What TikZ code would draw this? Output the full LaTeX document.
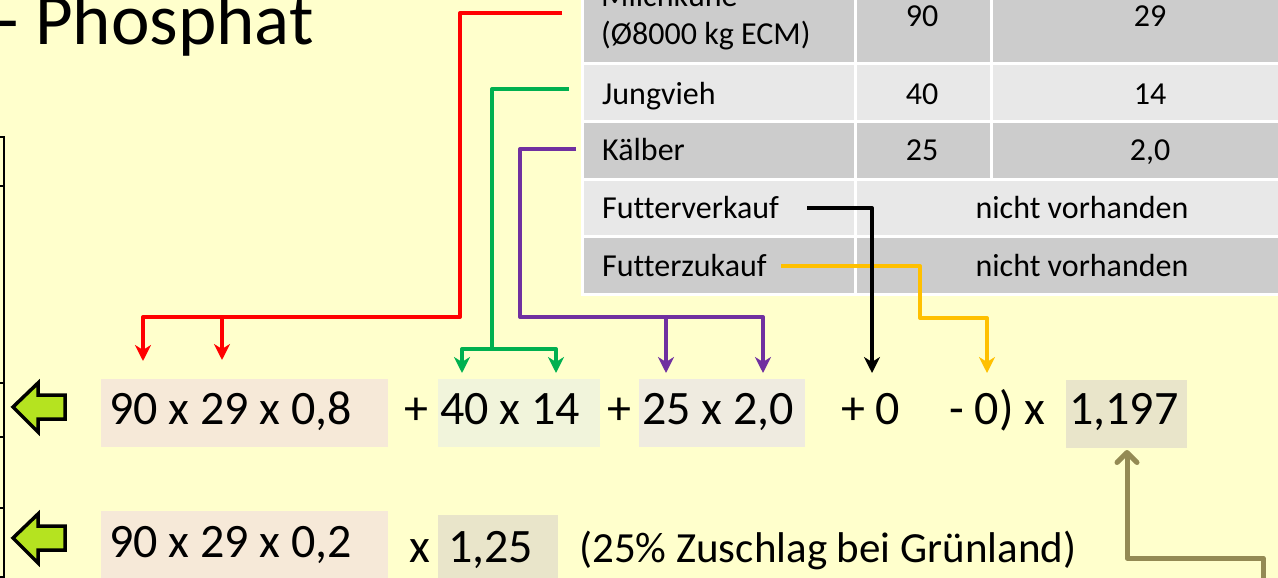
\documentclass[tikz,border=0pt]{standalone}
\usepackage{fontspec}
\setmainfont[Ligatures=NoCommon]{Carlito}
\usetikzlibrary{arrows.meta}
\definecolor{bgY}{HTML}{FFFFCC}
\definecolor{gDark}{HTML}{CCCCCC}
\definecolor{gLight}{HTML}{E8E8E8}
\definecolor{cRed}{HTML}{FF0000}
\definecolor{cGreen}{HTML}{00B050}
\definecolor{cPurple}{HTML}{7030A0}
\definecolor{cGold}{HTML}{FFC000}
\definecolor{cOlive}{HTML}{948A54}
\definecolor{boxA}{HTML}{F6E9D8}
\definecolor{boxG}{HTML}{F1F4DB}
\definecolor{boxP}{HTML}{EFEBE0}
\definecolor{boxO}{HTML}{E9E5CA}
\definecolor{lime}{HTML}{B5E320}
\begin{document}
\begin{tikzpicture}[x=1pt,y=-1pt,
  tbl/.style={inner sep=0pt, font=\fontsize{32}{38}\selectfont},
  frm/.style={inner sep=0pt, anchor=base west, font=\fontsize{48}{57}\selectfont},
  frmS/.style={inner sep=0pt, anchor=base west, font=\fontsize{43}{52}\selectfont},
  conn/.style={line width=4pt, line join=round},
  tipS/.style={-{Stealth[length=16pt,width=16pt,inset=5pt]}},
  greenarrow/.style={line width=3.5pt, draw=black, fill=lime, line join=miter},
  hbox/.style={inner sep=0pt, draw=none}
]
\useasboundingbox (0,0) rectangle (1278,578);
\fill[bgY] (0,0) rectangle (1278,578);

% partial table at the left edge
\draw[line width=2pt] (4,137) -- (4,585);
\foreach \yy in {137,186,383,437,508,577} \draw[line width=1.5pt] (-2,\yy) -- (5,\yy);

% title
\node[inner sep=0pt, anchor=base west, font=\fontsize{73}{88}\selectfont] (title) at (-4,45) {- Phosphat};

% table
\fill[white] (581,-40) rectangle (1320,296);
\fill[gDark] (584,-40) rectangle (854,62);
\fill[gDark] (857,-40) rectangle (990,62);
\fill[gDark] (993,-40) rectangle (1320,62);
\fill[gLight] (584,65) rectangle (854,120);
\fill[gLight] (857,65) rectangle (990,120);
\fill[gLight] (993,65) rectangle (1320,120);
\fill[gDark] (584,123) rectangle (854,178);
\fill[gDark] (857,123) rectangle (990,178);
\fill[gDark] (993,123) rectangle (1320,178);
\fill[gLight] (584,181) rectangle (854,235);
\fill[gLight] (857,181) rectangle (1320,235);
\fill[gDark] (584,238) rectangle (854,293);
\fill[gDark] (857,238) rectangle (1320,293);

\node[tbl, anchor=base west] (milchA) at (601,7) {Milchkühe};
\node[tbl, anchor=base west] (milchB) at (601,45) {(Ø8000 kg ECM)};
\node[tbl, anchor=base] (n90) at (922,27) {90};
\node[tbl, anchor=base] (n29) at (1150,27) {29};
\node[tbl, anchor=base west] (jung) at (602,104) {Jungvieh};
\node[tbl, anchor=base] (n40) at (922,104) {40};
\node[tbl, anchor=base] (n14) at (1150,104) {14};
\node[tbl, anchor=base west] (kalb) at (602,160) {Kälber};
\node[tbl, anchor=base] (n25) at (922,160) {25};
\node[tbl, anchor=base] (n20) at (1150,160) {2,0};
\node[tbl, anchor=base west] (fverk) at (602,218) {Futterverkauf};
\node[tbl, anchor=base] (nv1) at (1082,218) {nicht vorhanden};
\node[tbl, anchor=base west] (fzuk) at (602,276) {Futterzukauf};
\node[tbl, anchor=base] (nv2) at (1082,276) {nicht vorhanden};

% highlight boxes
\fill[boxA] (101,379) rectangle (388,447);
\fill[boxA] (101,511) rectangle (388,585);
\fill[boxG] (438,379) rectangle (600,447);
\fill[boxP] (639,379) rectangle (805,447);
\fill[boxO] (1066,380) rectangle (1187,448);
\fill[boxO] (438,515) rectangle (558,585);

% formula row 1
\node[frm] (f1) at (109,424) {90 x 29 x 0,8};
\node[frm] (p1) at (404,424) {+};
\node[frm] (f2) at (440,424) {40 x 14};
\node[frm] (p2) at (607,424) {+};
\node[frm] (f3) at (642,424) {25 x 2,0};
\node[frm] (f4) at (841,424) {+ 0};
\node[frm] (f5) at (949,424) {- 0) x};
\node[frm] (f6) at (1069,424) {1,197};
% formula row 2
\node[frm] (g1) at (109,557) {90 x 29 x 0,2};
\node[frm] (gx) at (409,562) {x};
\node[frm] (g2) at (448,562) {1,25};
\node[frmS] (g3) at (579,562) {(25\% Zuschlag bei Grünland)};

% green block arrows
\draw[greenarrow] (13,407) -- (38,383) -- (38,395) -- (65,395) -- (65,419) -- (38,419) -- (38,432) -- cycle;
\draw[greenarrow] (13,538) -- (38,514) -- (38,526) -- (65,526) -- (65,550) -- (38,550) -- (38,563) -- cycle;

% connector coordinates
\coordinate (rS) at (562,13);
\coordinate (rJ) at (222,317);
\coordinate (rA) at (143,361);
\coordinate (rB) at (222,360);
\coordinate (gS) at (569,89);
\coordinate (gJ) at (492,349);
\coordinate (gA) at (462,373);
\coordinate (gB) at (556,373);
\coordinate (pS) at (576,149);
\coordinate (pJ) at (666,317);
\coordinate (pA) at (666,373);
\coordinate (pB) at (763,373);
\coordinate (kS) at (807,208);
\coordinate (kA) at (872,373);
\coordinate (yS) at (781,266);
\coordinate (yA) at (987,373);
\coordinate (oS) at (1263,590);
\coordinate (oA) at (1127,450);

% red
\draw[conn, cRed, tipS] (rS) -- (460,13) -- (460,317) -| (rA);
\draw[conn, cRed, tipS] (rJ) -- (rB);
% green
\draw[conn, cGreen] (gS) -| (gJ);
\draw[conn, cGreen, tipS] (gJ) -| (gA);
\draw[conn, cGreen, tipS] (gJ) -| (gB);
% purple
\draw[conn, cPurple, tipS] (pS) -- (520,149) -- (520,317) -| (pB);
\draw[conn, cPurple, tipS] (pJ) -- (pA);
% gold
\draw[conn, cGold, tipS] (yS) -- (920,266) -- (920,318) -| (yA);
% black
\draw[conn, black, tipS] (kS) -| (kA);
% olive
\draw[line width=5pt, cOlive, line join=round, line cap=round,
  -{Straight Barb[length=10pt,width=20pt,line cap=round,line join=round]}]
  (oS) -- (1263,558) -| (oA);
\end{tikzpicture}
\end{document}
